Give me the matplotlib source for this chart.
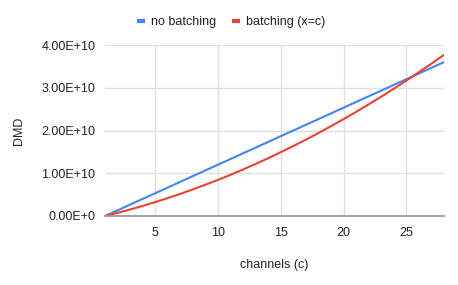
import matplotlib.pyplot as plt
from matplotlib.ticker import FuncFormatter

# Datos (DMD en unidades de 1e10)
channels = list(range(1, 29))
no_batching = [0.000, 0.133, 0.267, 0.400, 0.533, 0.667, 0.800, 0.933, 1.067, 1.200,
               1.333, 1.467, 1.600, 1.733, 1.867, 2.000, 2.133, 2.267, 2.400, 2.533,
               2.667, 2.800, 2.933, 3.067, 3.200, 3.333, 3.467, 3.600]
batching = [0.000, 0.074, 0.152, 0.236, 0.325, 0.419, 0.517, 0.622, 0.731, 0.845,
            0.964, 1.088, 1.218, 1.352, 1.492, 1.637, 1.786, 1.941, 2.101, 2.266,
            2.436, 2.611, 2.791, 2.977, 3.167, 3.363, 3.563, 3.769]
x_ticks = [5, 10, 15, 20, 25]
y_ticks = [0, 1e10, 2e10, 3e10, 4e10]

plt.rcParams['font.family'] = ['Liberation Sans', 'DejaVu Sans']

fig = plt.figure(figsize=(4.58, 2.85), dpi=100)
ax = fig.add_axes([105 / 458, 69 / 285, 339 / 458, 171 / 285])

ax.plot(channels, [v * 1e10 for v in no_batching], color='#4285F4', lw=1.5,
        label='no batching', solid_capstyle='round')
ax.plot(channels, [v * 1e10 for v in batching], color='#EA4335', lw=1.5,
        label='batching (x=c)', solid_capstyle='round')

ax.set_xlim(1, 28)
ax.set_ylim(0, 4e10)
ax.set_xticks(x_ticks)
ax.set_yticks(y_ticks)


def sci_fmt(v, pos):
    if v == 0:
        return '0.00E+0'
    exp = int(f'{v:e}'.split('e')[1])
    return f'{v / 10 ** exp:.2f}E+{exp}'


ax.yaxis.set_major_formatter(FuncFormatter(sci_fmt))
ax.grid(True, color='#e0e0e0', lw=1)
ax.set_axisbelow(True)
for s in ['top', 'right', 'left']:
    ax.spines[s].set_visible(False)
ax.spines['bottom'].set_color('#999999')
ax.spines['bottom'].set_linewidth(1.3)
ax.spines['bottom'].set_zorder(5)
ax.tick_params(length=0, labelsize=9, colors='#222222', pad=7)
ax.tick_params(axis='x', pad=8)

ax.set_xlabel('channels (c)', fontsize=9, color='#222222', labelpad=14)
ax.set_ylabel('DMD', fontsize=9, color='#222222', labelpad=12)

fig.legend(loc='center', bbox_to_anchor=(0.505, 1 - 22 / 285), ncol=2, frameon=False,
           fontsize=9, handlelength=0.6, handletextpad=0.5, columnspacing=1.3,
           labelcolor='#222222')
for h in fig.legends[0].legend_handles:
    h.set_linewidth(3)
    h.set_solid_capstyle('butt')

fig.savefig('out.png', dpi=100)
